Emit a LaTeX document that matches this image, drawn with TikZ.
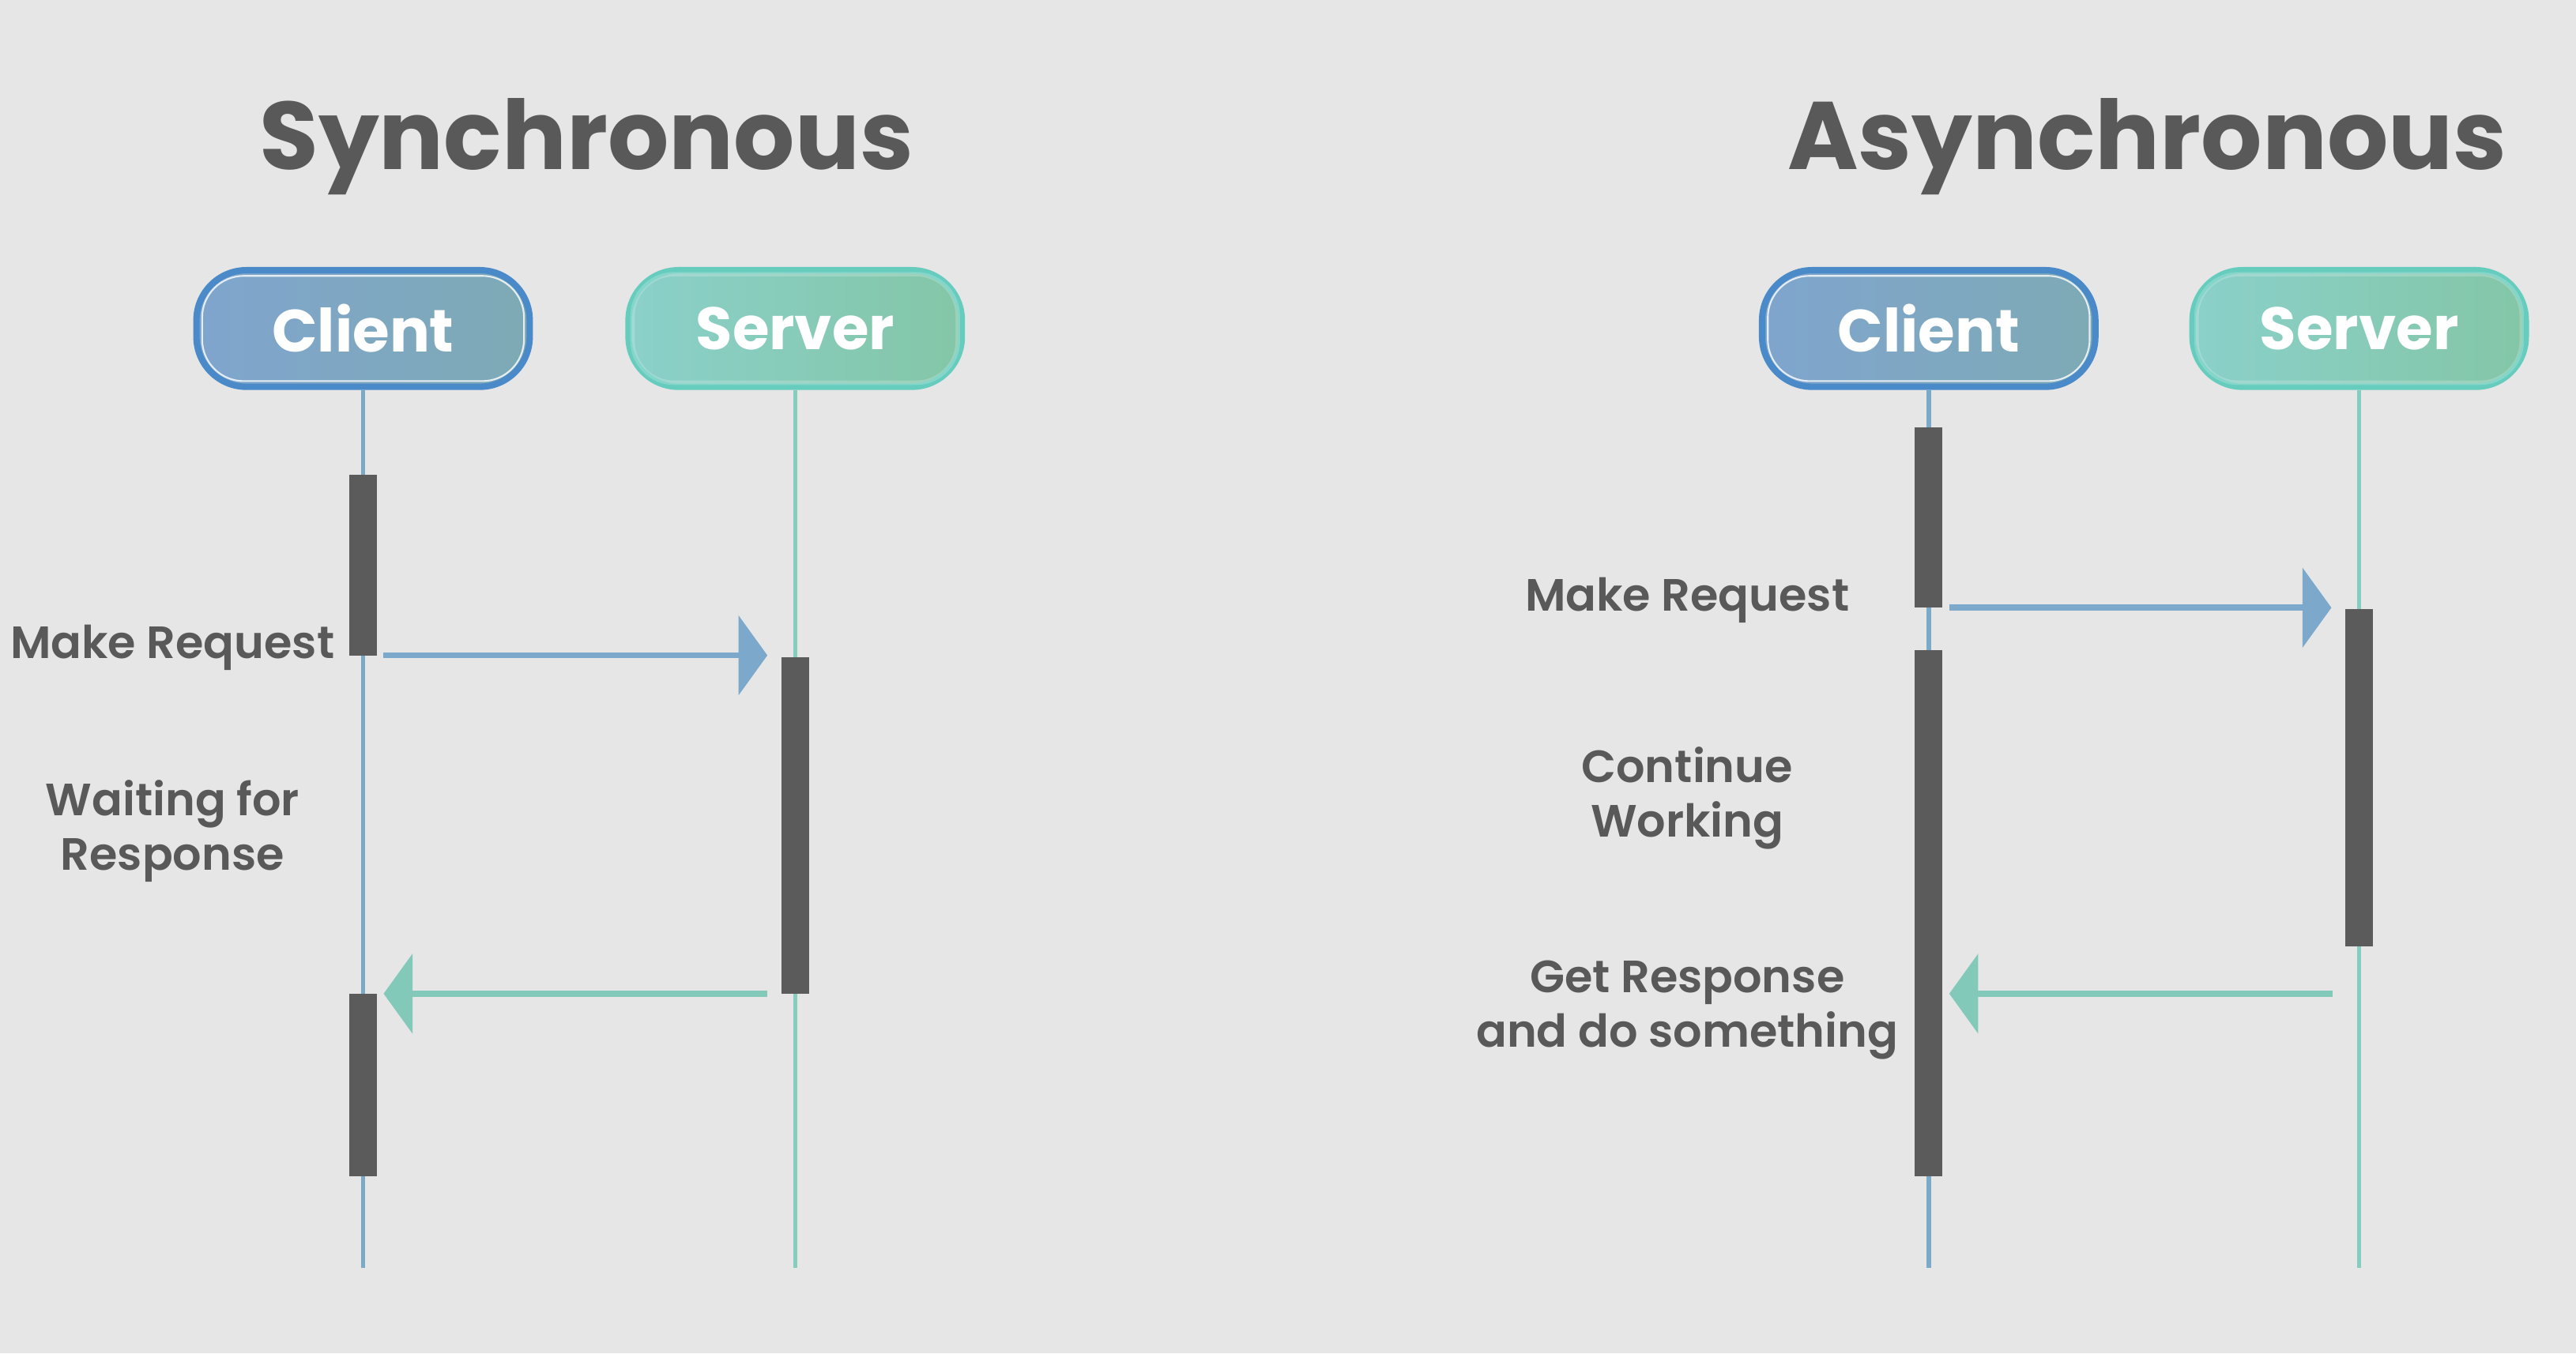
\documentclass[tikz,border=0pt]{standalone}
\usepackage{fontspec}
\setmainfont{Poppins}
\newfontfamily\semibold{Poppins SemiBold}
\usetikzlibrary{positioning,arrows.meta,fit}
\definecolor{bgcol}{HTML}{E6E6E6}
\definecolor{textgray}{HTML}{595959}
\definecolor{barcol}{HTML}{5B5B5B}
\definecolor{clientL}{HTML}{7FA5CE}
\definecolor{clientR}{HTML}{7EAAB5}
\definecolor{clientrim}{HTML}{4A8AC9}
\definecolor{serverL}{HTML}{8BD0CA}
\definecolor{serverR}{HTML}{83C6A7}
\definecolor{serverrim}{HTML}{66CCBD}
\definecolor{clientwire}{HTML}{7BA9C8}
\definecolor{serverwire}{HTML}{86CDC0}
\definecolor{reqcol}{HTML}{7BA8CB}
\definecolor{respcol}{HTML}{82C9B9}
\tikzset{%
lane/.style={minimum width=120pt,minimum height=42pt,inner sep=0,rounded corners=18pt,
  line width=2.3pt,text=white,font=\fontsize{21.5}{24}\selectfont\bfseries},
client/.style={lane,draw=clientrim,left color=clientL,right color=clientR},
server/.style={lane,draw=serverrim,left color=serverL,right color=serverR},
clientlife/.style={draw=clientwire,line width=1.6pt},
serverlife/.style={draw=serverwire,line width=1.6pt},
bar/.style={fill=barcol,inner sep=0,outer sep=0,minimum width=10pt},
req/.style={draw=reqcol,fill=reqcol,line width=2.2pt,-{Triangle[length=10.4pt,width=28.4pt]},
  shorten <=2.4pt,shorten >=5pt},
resp/.style={draw=respcol,fill=respcol,line width=2.2pt,-{Triangle[length=10.4pt,width=28.4pt]},
  shorten <=5pt,shorten >=2.4pt},
title/.style={font=\fontsize{34.6}{40}\selectfont\bfseries,text=textgray,anchor=base,inner sep=0},
note/.style={font=\fontsize{16.3}{19.5}\selectfont\semibold,text=textgray,align=center,inner sep=0}
}

\begin{document}
\begin{tikzpicture}[x=0.5916pt,y=-0.5916pt]

    \fill[bgcol] (0,0) rectangle (1568,824);
    \useasboundingbox (0,0) rectangle (1568,824);

    % synchronous
    \node[title] (stitle) at (357,103) {Synchronous};
    \node[client] (sclient) at (221,200) {Client};
    \node[server] (sserver) [right=33.3pt of sclient] {Server};
    \coordinate (sbottom) at (0,772);

    \path[clientlife] (sclient.south) -- (sclient.south |- sbottom);
    \path[serverlife] (sserver.south) -- (sserver.south |- sbottom);

    \node[bar,fit={(221,289) (221,399)}] (scbar1) {};
    \node[bar,fit={(484,400) (484,605)}] (ssbar) {};
    \node[bar,fit={(221,605) (221,716)}] (scbar2) {};

    \path[req] (scbar1.south east) -- (scbar1.south east -| ssbar.west);
    \path[resp] (ssbar.south west) -- (ssbar.south west -| scbar2.east);

    \node[note,anchor=base east] (sreq) at (204,401) {Make Request};
    \node[note] (swait) at (105,506) {Waiting for\\Response};

    % asynchronous
    \node[title] (atitle) at (1307,103) {Asynchronous};
    \node[client] (aclient) at (1174,200) {Client};
    \node[server] (aserver) [right=32.7pt of aclient] {Server};
    \coordinate (abottom) at (0,772);

    \path[clientlife] (aclient.south) -- (aclient.south |- abottom);
    \path[serverlife] (aserver.south) -- (aserver.south |- abottom);

    \node[bar,fit={(1174,260) (1174,370)}] (acbar1) {};
    \node[bar,fit={(1436,371) (1436,576)}] (asbar) {};
    \node[bar,fit={(1174,396) (1174,716)}] (acbar2) {};
    \coordinate (aret) at (1436,605);

    \path[req] (acbar1.south east) -- (acbar1.south east -| asbar.west);
    \path[resp,shorten <=9.5pt] (aret) -- (aret -| acbar2.east);

    \node[note,anchor=base] (areq) at (1027,372) {Make Request};
    \node[note] (awork) at (1027,486) {Continue\\Working};
    \node[note] (aget) at (1027,615) {Get Response\\and do something};

    % inner rims
    \foreach \n in {sclient,aclient}
      \draw[white,opacity=0.8,line width=0.6pt,rounded corners=15pt]
        ([shift={(3.2pt,-3.2pt)}]\n.north west) rectangle ([shift={(-3.2pt,3.2pt)}]\n.south east);
    \foreach \n in {sserver,aserver}
      \draw[white,opacity=0.2,line width=1.6pt,rounded corners=15pt]
        ([shift={(2.6pt,-2.6pt)}]\n.north west) rectangle ([shift={(-2.6pt,2.6pt)}]\n.south east);

\end{tikzpicture}
\end{document}
